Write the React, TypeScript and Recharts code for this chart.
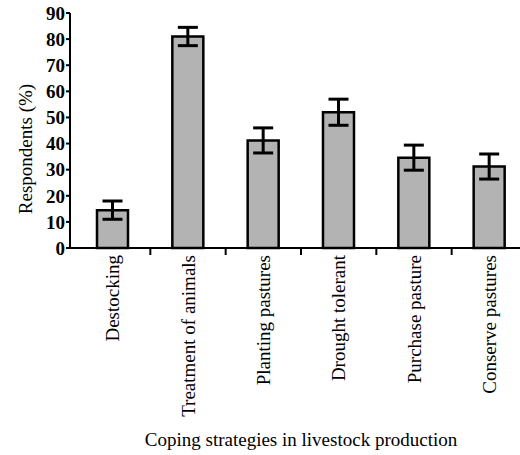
import React from 'react'
import { BarChart, Bar, XAxis, YAxis, ErrorBar } from 'recharts'

const strategies = [
  'Destocking',
  'Treatment of animals',
  'Planting pastures',
  'Drought tolerant',
  'Purchase pasture',
  'Conserve pastures',
]
const respondents = [14.5, 81, 41.2, 52, 34.6, 31.2]
const errors = [3.5, 3.5, 4.8, 5, 4.8, 4.8]
const yTicks = [0, 10, 20, 30, 40, 50, 60, 70, 80, 90]

const data = strategies.map((name, i) => ({ name, value: respondents[i], err: errors[i] }))

const font = 'Liberation Serif, DejaVu Serif, serif'

// category label rotated, plus a tick mark on the boundary to the right
function CategoryTick({ x, y, payload, index }: any) {
  const half = payload.offset ?? 0
  return (
    <g>
      {index < strategies.length - 1 && (
        <line x1={x + half} x2={x + half} y1={y} y2={y + 7} stroke="#000" strokeWidth={2} />
      )}
      <text
        x={x}
        y={y + 7}
        transform={`rotate(-90, ${x}, ${y + 7})`}
        textAnchor="end"
        dy="0.35em"
        style={{ fontSize: 19, fontFamily: font, fill: '#000' }}
      >
        {payload.value}
      </text>
    </g>
  )
}

function YTitle() {
  return (
    <text x={25} y={149} transform="rotate(-90, 25, 149)" textAnchor="middle" dy="0.35em"
      style={{ fontSize: 19, fontFamily: font, fill: '#000' }}>
      Respondents (%)
    </text>
  )
}

function XTitle() {
  return (
    <text x={301} y={446} textAnchor="middle" style={{ fontSize: 19, fontFamily: font, fill: '#000' }}>
      Coping strategies in livestock production
    </text>
  )
}

export default function App() {
  return (
    <div style={{ position: 'absolute', left: 0, top: 0, width: 520, height: 455, overflow: 'hidden', background: '#fff', fontFamily: font }}>
      <BarChart width={527} height={455} data={data} margin={{ top: 13, right: 0, left: 0, bottom: 0 }}
        style={{ fontFamily: font }}>
        <YAxis
          width={70}
          domain={[0, 90]}
          ticks={yTicks}
          interval={0}
          tickSize={4}
          tickMargin={1}
          axisLine={{ stroke: '#000', strokeWidth: 2 }}
          tickLine={{ stroke: '#000', strokeWidth: 2 }}
          tick={{ fontSize: 19, fontWeight: 'bold', fill: '#000', style: { fontFamily: font } }}
          label={<YTitle />}
        />
        <XAxis
          dataKey="name"
          height={207}
          interval={0}
          padding={{ left: 5, right: 0 }}
          tickSize={0}
          tickMargin={0}
          tickLine={false}
          axisLine={{ stroke: '#000', strokeWidth: 2 }}
          tick={<CategoryTick />}
          label={<XTitle />}
        />
        <Bar dataKey="value" barSize={31} fill="#b3b3b3" stroke="#000" strokeWidth={2.5} isAnimationActive={false}>
          <ErrorBar dataKey="err" width={10} stroke="#000" strokeWidth={3} isAnimationActive={false} />
        </Bar>
      </BarChart>
    </div>
  )
}
